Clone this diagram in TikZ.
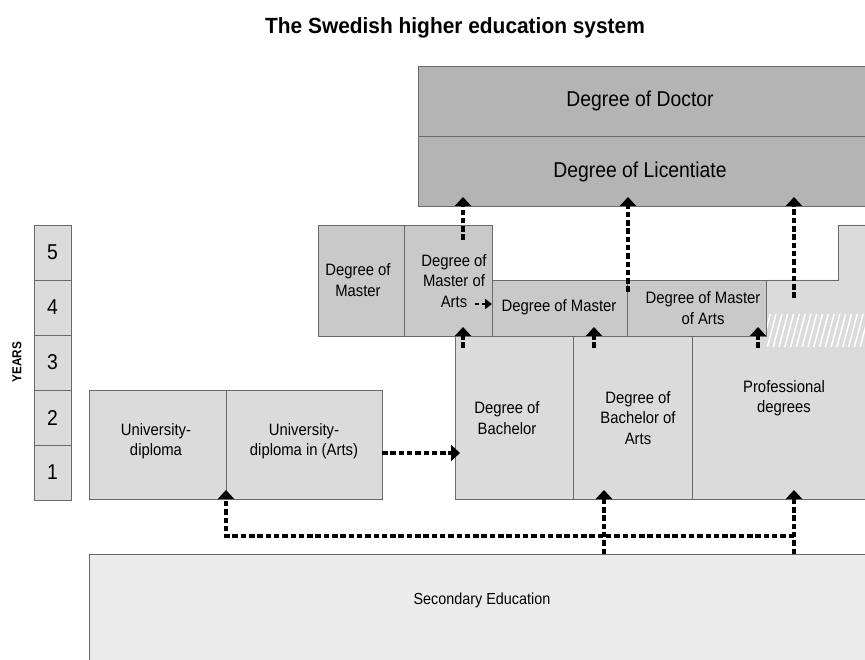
\documentclass[tikz,border=0pt]{standalone}
\usepackage{fontspec}
\setmainfont{Liberation Sans}[FakeStretch=0.9]
\newfontfamily\titlefont{Liberation Sans}[FakeStretch=0.95]
\usetikzlibrary{arrows.meta}
\definecolor{docgray}{HTML}{B4B4B5}
\definecolor{mastgray}{HTML}{C9C9CA}
\definecolor{bachgray}{HTML}{DBDBDC}
\definecolor{secgray}{HTML}{EBEBEB}
\definecolor{linegray}{HTML}{6A6A6A}
\begin{document}
\begin{tikzpicture}[x=1pt,y=-1pt,
  boxnode/.style={rectangle, inner sep=0pt, outer sep=0pt, draw=linegray, line width=0.9pt},
  lbl/.style={font=\fontsize{16.5}{20.5}\selectfont, align=center, inner sep=0pt},
  biglbl/.style={font=\fontsize{21.5}{24}\selectfont, inner sep=0pt},
  link/.style={dash pattern=on 5.5pt off 2.8pt, line width=3.2pt, -{Triangle[width=16pt,length=9pt]}, shorten >=-9pt},
  smalllink/.style={dash pattern=on 4pt off 2.5pt, line width=2.4pt, -{Triangle[width=10pt,length=7pt]}}
]
\useasboundingbox (0,0) rectangle (865,660);
\fill[white] (0,0) rectangle (865,660);

% title
\node[font=\titlefont\fontsize{22}{25}\selectfont\bfseries, inner sep=0pt] (title) at (455,28) {The Swedish higher education system};

% doctor / licentiate
\node[boxnode, fill=docgray, anchor=north west, minimum width=450pt, minimum height=70pt] (doc) at (418,66) {};
\node[boxnode, fill=docgray, anchor=north west, minimum width=450pt, minimum height=70pt] (lic) at (418,136) {};
\node[biglbl] (doctxt) at (640,101) {Degree of Doctor};
\node[biglbl] (lictxt) at (640,172) {Degree of Licentiate};

% professional region (L-shape)
\fill[bachgray] (692,499) -- (692,336) -- (766,336) -- (766,280) -- (838,280) -- (838,225) -- (868,225) -- (868,499) -- cycle;
\draw[linegray, line width=0.9pt] (766,280) -- (838,280) -- (838,225) -- (868,225);
\begin{scope}
  \clip (767,315) rectangle (868,347);
  \foreach \hx in {755,760.8,...,875} {
    \draw[white, line width=1.5pt] (\hx,350) -- (\hx+10,312);
  }
\end{scope}

% master row
\node[boxnode, fill=mastgray, anchor=north west, minimum width=86pt, minimum height=111pt] (mastL) at (318,225) {};
\node[boxnode, fill=mastgray, anchor=north west, minimum width=88pt, minimum height=111pt] (mastLA) at (404,225) {};
\node[boxnode, fill=mastgray, anchor=north west, minimum width=135pt, minimum height=56pt] (mast2) at (492,280) {};
\node[boxnode, fill=mastgray, anchor=north west, minimum width=139pt, minimum height=56pt] (mastA2) at (627,280) {};
\node[lbl] (mastLtxt) at (358,280) {Degree of\\Master};
\node[lbl] (mastLAtxt) at (454,281) {Degree of\\Master of\\Arts};
\node[lbl] (mast2txt) at (559,307) {Degree of Master};
\node[lbl] (mastA2txt) at (703,308) {Degree of Master\\of Arts};

% bachelor row
\node[boxnode, fill=bachgray, anchor=north west, minimum width=118pt, minimum height=163pt] (bach) at (455,336) {};
\node[boxnode, fill=bachgray, anchor=north west, minimum width=119pt, minimum height=163pt] (bachA) at (573,336) {};
\draw[linegray, line width=0.9pt] (692,336) -- (692,499) -- (868,499);
\coordinate (profbot) at (794,499);
\node[lbl] (bachtxt) at (507,418) {Degree of\\Bachelor};
\node[lbl] (bachAtxt) at (638,418) {Degree of\\Bachelor of\\Arts};
\node[lbl] (proftxt) at (784,398) {Professional\\degrees};

% diplomas
\node[boxnode, fill=bachgray, anchor=north west, minimum width=137pt, minimum height=109pt] (dipl) at (89,390) {};
\node[boxnode, fill=bachgray, anchor=north west, minimum width=156pt, minimum height=109pt] (diplA) at (226,390) {};
\node[lbl] (dipltxt) at (156,441) {University-\\diploma};
\node[lbl] (diplAtxt) at (304,441) {University-\\diploma in (Arts)};

% secondary
\node[boxnode, fill=secgray, anchor=north west, minimum width=780pt, minimum height=110pt] (sec) at (89,554) {};
\node[font=\fontsize{16}{18}\selectfont, inner sep=0pt] (sectxt) at (482,600) {Secondary Education};

% years
\foreach \n/\yy in {5/225,4/280,3/335,2/390,1/445} {
  \node[boxnode, fill=bachgray, anchor=north west, minimum width=37pt, minimum height=55pt] (yr\n) at (34,\yy) {};
  \node[biglbl] (yrtxt\n) at (yr\n.center) {\n};
}
\node[font=\fontsize{13}{14}\selectfont\bfseries, rotate=90, inner sep=0pt] (years) at (17,362) {YEARS};

% connectors
\coordinate (a1s) at (463,240);
\coordinate (a2s) at (628,292);
\coordinate (a3s) at (794,298);
\draw[link] (a1s) -- (a1s |- lic.south);
\draw[link] (a2s) -- (a2s |- lic.south);
\draw[link] (a3s) -- (a3s |- lic.south);

\coordinate (a4s) at (463,348);
\coordinate (a5s) at (594,348);
\coordinate (a6s) at (758,348);
\draw[link] (a4s) -- (a4s |- mastLA.south);
\draw[link] (a5s) -- (a5s |- mast2.south);
\draw[link] (a6s) -- (a6s |- mastA2.south);

\coordinate (a7s) at (475,304);
\draw[smalllink] (a7s) -- (a7s -| mast2.west);

\coordinate (a8s) at (382,453);
\draw[link, shorten >=-5pt] (a8s) -- (a8s -| bach.west);

\coordinate (s1) at (604,554);
\coordinate (s2) at (794,554);
\coordinate (junc) at (794,536);
\draw[link] (s1) -- (s1 |- bachA.south);
\draw[link] (s2) -- (profbot);
\draw[link] (junc) -- (226,536) -- (dipl.south east);
\end{tikzpicture}
\end{document}
